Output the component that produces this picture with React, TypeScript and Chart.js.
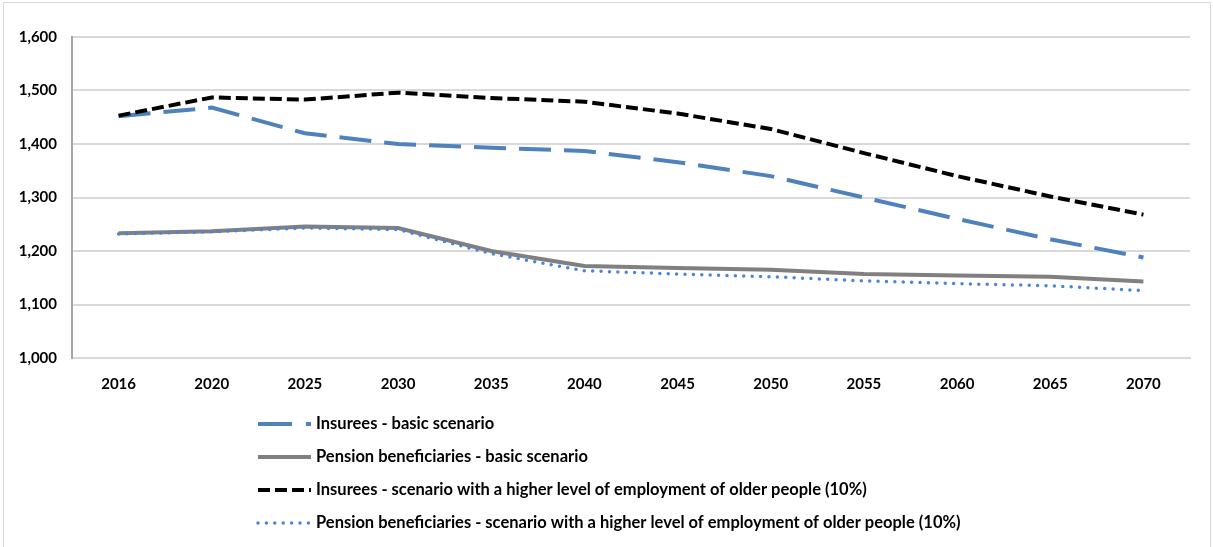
import React, { useEffect, useRef } from "react";
import { Chart, registerables } from "chart.js";

Chart.register(...registerables);

const years = ["2016", "2020", "2025", "2030", "2035", "2040", "2045", "2050", "2055", "2060", "2065", "2070"];
const insureesBasic = [1452, 1468, 1420, 1400, 1393, 1387, 1366, 1340, 1300, 1260, 1222, 1188];
const pensionBasic = [1233, 1237, 1246, 1243, 1200, 1172, 1168, 1165, 1157, 1154, 1152, 1143];
const insureesHigher = [1453, 1487, 1483, 1496, 1486, 1479, 1457, 1428, 1383, 1340, 1302, 1268];
const pensionHigher = [1232, 1236, 1243, 1240, 1195, 1163, 1157, 1152, 1144, 1139, 1135, 1126];
const seriesNames = [
  "Insurees - basic scenario",
  "Pension beneficiaries - basic scenario",
  "Insurees - scenario with a higher level of employment of older people (10%)",
  "Pension beneficiaries - scenario with a higher level of employment of older people (10%)",
];

const FONT = "Lato, 'Open Sans', sans-serif";

const legendPlugin = {
  id: "customLegend",
  afterDraw(chart: any) {
    const ctx = chart.ctx as CanvasRenderingContext2D;
    ctx.save();
    ctx.strokeStyle = "#d9d9d9";
    ctx.lineWidth = 1;
    ctx.strokeRect(3.5, 2.5, 1207, 600);
    const rows = [424, 457, 490, 523];
    const x0 = 258;
    const x1 = 311;
    chart.data.datasets.forEach((ds: any, i: number) => {
      const y = rows[i];
      ctx.beginPath();
      ctx.strokeStyle = ds.borderColor;
      ctx.lineWidth = ds.borderWidth;
      ctx.lineCap = ds.borderCapStyle || "butt";
      ctx.setLineDash(ds.legendDash || ds.borderDash || []);
      ctx.moveTo(x0, y);
      ctx.lineTo(x1, y);
      ctx.stroke();
      ctx.setLineDash([]);
      ctx.fillStyle = "#000";
      ctx.font = `bold 16.5px ${FONT}`;
      ctx.textBaseline = "middle";
      ctx.textAlign = "left";
      ctx.fillText(ds.label, 316, y);
    });
    ctx.restore();
  },
};

export default function App() {
  const ref = useRef<HTMLCanvasElement>(null);
  useEffect(() => {
    document.body.style.margin = "0";
    const chart = new Chart(ref.current!, {
      type: "line",
      data: {
        labels: years,
        datasets: [
          {
            label: seriesNames[0],
            data: insureesBasic,
            borderColor: "#4f81bd",
            borderWidth: 4,
            borderDash: [32, 13],
            legendDash: [34, 14],
            pointRadius: 0,
            tension: 0,
            order: 4,
          } as any,
          {
            label: seriesNames[1],
            data: pensionBasic,
            borderColor: "#808080",
            borderWidth: 4,
            pointRadius: 0,
            tension: 0,
            order: 3,
          },
          {
            label: seriesNames[2],
            data: insureesHigher,
            borderColor: "#000000",
            borderWidth: 4,
            borderDash: [12, 5],
            pointRadius: 0,
            tension: 0,
            order: 2,
          },
          {
            label: seriesNames[3],
            data: pensionHigher,
            borderColor: "#4a86d8",
            borderWidth: 3.5,
            borderDash: [0, 8.4],
            borderCapStyle: "round",
            pointRadius: 0,
            tension: 0,
            order: 1,
          },
        ],
      },
      options: {
        animation: false,
        responsive: false,
        devicePixelRatio: 1,
        layout: { padding: { left: 0, right: 23, top: 37, bottom: 149 } },
        plugins: { legend: { display: false }, tooltip: { enabled: false } },
        scales: {
          x: {
            offset: true,
            grid: { display: false, drawTicks: false, offset: true },
            border: { color: "#d9d9d9", width: 2 },
            ticks: { font: { family: FONT, size: 15, weight: "bold" }, color: "#000", padding: 17, maxRotation: 0 },
            afterFit: (s: any) => { s.height = 40; },
          },
          y: {
            min: 1000,
            max: 1600,
            grid: { color: "#d9d9d9", lineWidth: 2, drawTicks: false },
            border: { color: "#a6a6a6", width: 2 },
            ticks: {
              stepSize: 100,
              font: { family: FONT, size: 15, weight: "bold" },
              color: "#000",
              padding: 15,
              callback: (v: any) => Number(v).toLocaleString("en-US"),
            },
            afterFit: (s: any) => { s.width = 72; },
          },
        },
      },
      plugins: [legendPlugin],
    });
    return () => chart.destroy();
  }, []);
  return (
    <div style={{ width: 1213, height: 547, position: "relative", background: "#fff" }}>
      <canvas ref={ref} width={1213} height={547} style={{ display: "block" }} />
    </div>
  );
}
